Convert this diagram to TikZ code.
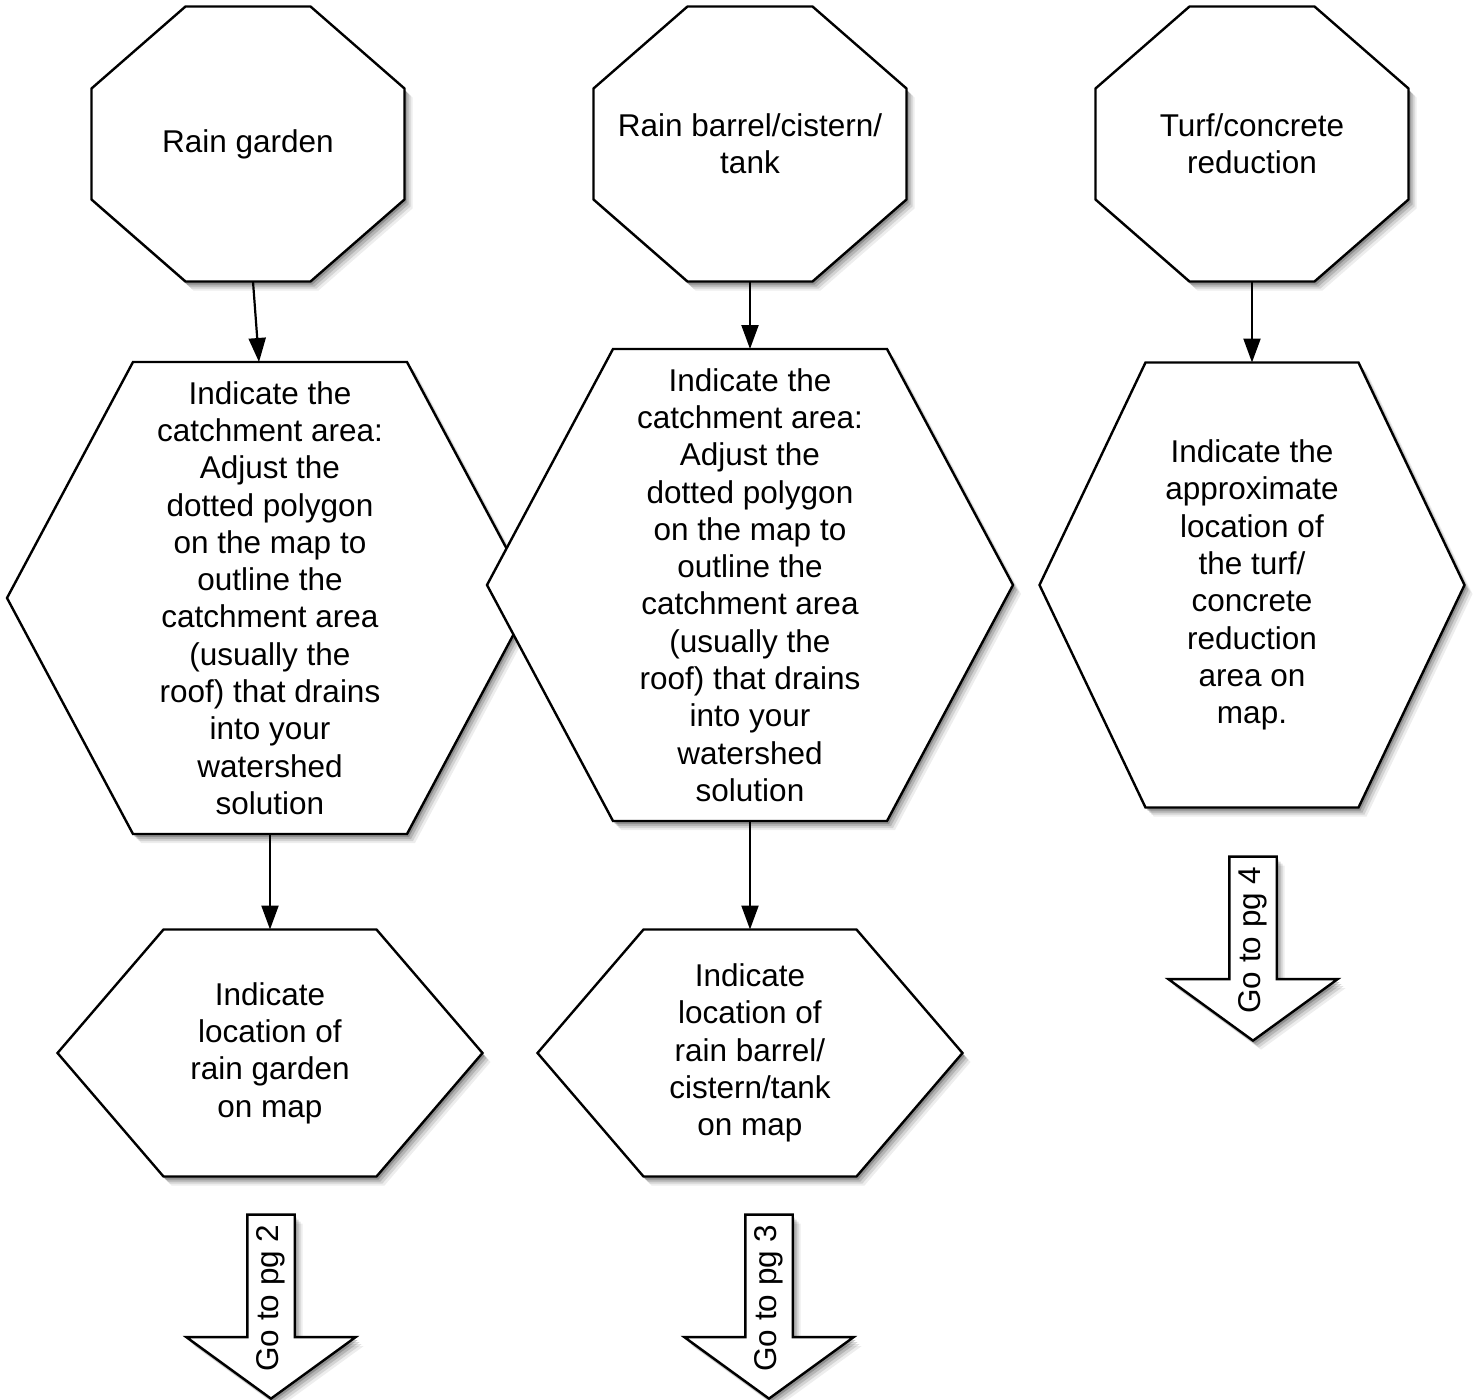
\documentclass[tikz,border=0pt]{standalone}
\usepackage{fontspec}
\setmainfont{Liberation Sans}
\usetikzlibrary{arrows.meta,shapes.arrows,shadows,backgrounds}

\begin{document}
\begin{tikzpicture}[
      x=1pt, y=-1pt,
      softshadow/.style={general shadow={shadow xshift=8pt, shadow yshift=-9pt, fill=black, opacity=0.07}, general shadow={shadow xshift=6pt, shadow yshift=-7pt, fill=black, opacity=0.11}, general shadow={shadow xshift=4pt, shadow yshift=-5pt, fill=black, opacity=0.15}, general shadow={shadow xshift=2pt, shadow yshift=-3pt, fill=black, opacity=0.2}},
      outline/.style={draw, line width=2.4pt, line join=miter, fill=white, softshadow},
      slot/.style={rectangle, inner sep=0pt, outer sep=0pt, align=center, font=\fontsize{31.5}{37.3}\selectfont},
      octslot/.style={slot, minimum width=313pt, minimum height=275pt},
      bigslot/.style={slot, minimum width=526pt, minimum height=472pt},
      midslot/.style={slot, minimum width=425pt, minimum height=445pt},
      lowslot/.style={slot, minimum width=425pt, minimum height=247pt},
      gobox/.style={slot, outline, single arrow, rotate=90, shape border rotate=180, minimum height=184pt, single arrow head extend=61pt, single arrow tip angle=108, text height=22pt, text depth=7pt, inner ysep=8pt, inner xsep=0pt},
      flow/.style={-{Triangle[length=24pt,width=17pt]}, line width=2.2pt}
    ]
      \useasboundingbox (0,0) rectangle (1476,1400);

      % Rain garden
      \node[octslot] (rgoct) at (248,144) {Rain garden};
      \node[bigslot] (rgcatch) at (270,598) {Indicate the\\catchment area:\\Adjust the\\dotted polygon\\on the map to\\outline the\\catchment area\\(usually the\\roof) that drains\\into your\\watershed\\solution};
      \node[lowslot] (rgloc) at (270,1053) {Indicate\\location of\\rain garden\\on map};
      \node[gobox] (rgnext) at (271,1298) {Go to pg 2};

      % Rain barrel / cistern / tank
      \node[octslot] (rboct) at (750,144) {Rain barrel/cistern/\\tank};
      \node[bigslot] (rbcatch) at (750,585) {Indicate the\\catchment area:\\Adjust the\\dotted polygon\\on the map to\\outline the\\catchment area\\(usually the\\roof) that drains\\into your\\watershed\\solution};
      \node[lowslot] (rbloc) at (750,1053) {Indicate\\location of\\rain barrel/\\cistern/tank\\on map};
      \node[gobox] (rbnext) at (769,1298) {Go to pg 3};

      % Turf / concrete reduction
      \node[octslot] (tcoct) at (1252,144) {Turf/concrete\\reduction};
      \node[midslot] (tcarea) at (1252,585) {Indicate the\\approximate\\location of\\the turf/\\concrete\\reduction\\area on\\map.};
      \node[gobox] (tcnext) at (1253,940) {Go to pg 4};

      % outlines behind the texts
      \begin{scope}[on background layer]
        \foreach \n in {rgoct,rboct,tcoct}
          \draw[outline] ([xshift=94pt]\n.north west) -- ([xshift=-94pt]\n.north east) -- ([yshift=-82pt]\n.north east) -- ([yshift=82pt]\n.south east) -- ([xshift=-94pt]\n.south east) -- ([xshift=94pt]\n.south west) -- ([yshift=82pt]\n.south west) -- ([yshift=-82pt]\n.north west) -- cycle;
        \foreach \n/\d in {rgcatch/126,rgloc/106,rbcatch/126,rbloc/106,tcarea/106}
          \draw[outline] (\n.west) -- ([xshift=\d pt]\n.north west) -- ([xshift=-\d pt]\n.north east) -- (\n.east) -- ([xshift=-\d pt]\n.south east) -- ([xshift=\d pt]\n.south west) -- cycle;
      \end{scope}

      \draw[flow] ([xshift=5pt]rgoct.south) -- ([xshift=-11pt]rgcatch.north);
      \draw[flow] (rgcatch.south) -- (rgloc.north);
      \draw[flow] (rboct.south) -- (rbcatch.north);
      \draw[flow] (rbcatch.south) -- (rbloc.north);
      \draw[flow] (tcoct.south) -- (tcarea.north);
    \end{tikzpicture}
\end{document}
